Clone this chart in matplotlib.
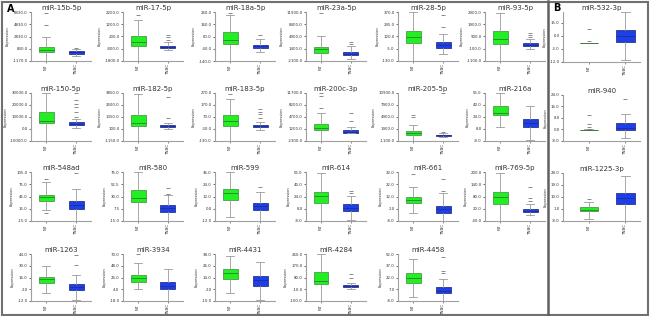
import matplotlib
matplotlib.use("Agg")
import matplotlib.pyplot as plt
from matplotlib.patches import Rectangle
from matplotlib.lines import Line2D

######################### data ################################################
# panel A, read row by row (6, 6, 6, 5 plots)
names_a = ["miR-15b-5p", "miR-17-5p", "miR-18a-5p", "miR-23a-5p", "miR-28-5p", "miR-93-5p",
           "miR-150-5p", "miR-182-5p", "miR-183-5p", "miR-200c-3p", "miR-205-5p", "miR-216a",
           "miR-548ad", "miR-580", "miR-599", "miR-614", "miR-661", "miR-769-5p",
           "miR-1263", "miR-3934", "miR-4431", "miR-4284", "miR-4458"]
# y range (bottom tick, top tick)
yrange_a = [(-1170, 6830), (-1800, 2200), (-140, 260), (-2100, 11900), (-130, 370), (-1100, 2900),
            (-10000, 30000), (-1150, 3850), (-130, 270), (-2300, 11700), (-1100, 10900), (-8, 56),
            (-15, 105), (-15, 75), (-12, 36), (-8, 56), (-8, 32), (-40, 200),
            (-12, 44), (-18, 70), (-10, 38), (-100, 260), (-8, 52)]
# whislo, q1, median, q3, whishi
green_a = [[-1170, 270, 670, 1150, 2670], [-1800, -600, -240, 280, 1520], [-140, 0, 32, 96, 232],
           [-2100, 280, 1260, 1820, 4900], [-130, 50, 115, 180, 370], [-1100, 260, 700, 1340, 2820],
           [-10000, 4800, 6400, 14400, 29600], [-1150, 400, 750, 1600, 3700], [-130, -2, 34, 90, 218],
           [-2300, 780, 1480, 2740, 5820], [-1100, 460, 940, 1420, 2980], [10.6, 27.2, 29.1, 38.1, 55.4],
           [11.4, 34.2, 42.6, 49.8, 81], [-15, 19.2, 27.3, 41.7, 75], [-7.7, 8.6, 15.4, 19.2, 36],
           [-8, 15, 24.6, 30.4, 54.1], [-1.6, 6.4, 9.2, 12, 20], [-40, 41.6, 75.2, 104, 192.8],
           [-3, 9.3, 13.8, 17.1, 29.4], [4, 18.1, 25.1, 31.3, 53.3], [-2.3, 12.1, 18.3, 22.6, 36.1],
           [-100, 33.2, 54.8, 123.2, 260], [-2.6, 15.4, 21.4, 27.4, 45.4]]
green_out_a = [[4670, 6670], [1960], [252], [11620], [], [],
               [], [], [258], [7360, 10720, 11560], [5020, 5500], [],
               [88.2, 5.4], [], [], [], [30.4], [],
               [], [69.1], [], [], []]
blue_a = [[-290, 30, 270, 510, 750], [-880, -720, -640, -560, -280], [-68, -32, -20, -8, 36],
          [-1400, -420, 0, 560, 2100], [-55, 5, 30, 60, 145], [-100, 100, 220, 380, 700],
          [800, 3200, 4400, 5600, 8000], [150, 300, 400, 500, 750], [-38, -14, -6, 2, 30],
          [-60, 80, 360, 780, 1900], [-20, 100, 280, 460, 940], [-6.7, 10.6, 16.3, 20.8, 38.7],
          [-15, 13.8, 23.4, 34.2, 64.2], [-15, 2.1, 8.4, 13.8, 32.7], [-12, -1.4, 2.4, 5.8, 16.3],
          [-6.1, 5.4, 9.3, 13.8, 24.6], [-8, -1.2, 1.6, 4, 14.8], [-11.2, 5.6, 10.4, 17.6, 41.6],
          [-10.9, 0.9, 4.8, 8.2, 18.8], [-18, 4, 11, 18.1, 41.8], [-9, 5.4, 11.1, 15.9, 30.3],
          [-6.4, 8, 15.2, 22.4, 40.4], [-8, 1.6, 5.2, 9.4, 19.6]]
blue_out_a = [[990], [-80, 120, 360], [76], [2800, 3360], [220, 335], [820, 1020, 1220],
              [10400, 14000, 18400, 21200, 24400, 29600], [1250, 3450], [62, 94, 114, 134],
              [3440, 5820], [1180, 10780], [],
              [101.4], [34.5, 46.2], [21.6], [28.5, 31], [16.8, 26.4], [58.4, 70.4, 125.6],
              [30.6, 43.4], [], [], [80, 105.2], [27.4, 30.4, 48.4]]

# panel B
names_b = ["miR-532-3p", "miR-940", "miR-1225-3p"]
yrange_b = [(-12, 24), (-8, 24), (-8, 28)]
ytop_b = [22.5, 24, 28]  # miR-532-3p axis stops below its last tick
green_b = [[0.8, 0.8, 1.0, 1.4, 1.4], [-0.5, -0.4, -0.3, -0.1, 0.2], [-6.2, -0.8, 0.6, 2.4, 6.4]]
green_out_b = [[2.3, 10.8], [0.6, 1.6, 3.5, 10.2], [8.2]]
blue_b = [[-10.4, 1.8, 5.8, 9.9, 22.2], [-6.1, -0.3, 1.3, 4.5, 10.9], [-8, 5, 8.9, 13.2, 25.5]]
blue_out_b = [[], [21.4], []]

groups = ["NT", "TNBC"]

######################### drawing #############################################
W, H = 650, 316
fig = plt.figure(figsize=(6.5, 3.16), dpi=100)

def stats(box, out, label):
    return dict(whislo=box[0], q1=box[1], med=box[2], q3=box[3], whishi=box[4],
                fliers=out, label=label)

def draw(rect, name, yr, top, g, gout, b, bout, xlim):
    x0, y0, w, h = rect
    ax = fig.add_axes([x0 / W, 1 - (y0 + h) / H, w / W, h / H])
    bp = ax.bxp([stats(g, gout, groups[0]), stats(b, bout, groups[1])],
                positions=[1, 2], widths=0.5, patch_artist=True,
                whiskerprops=dict(color="#9a9a9a", lw=0.6),
                capprops=dict(color="#9a9a9a", lw=0.6),
                medianprops=dict(color="#2a6a2a", lw=0.5),
                flierprops=dict(marker="_", markersize=2.5, markeredgecolor="#777777",
                                markeredgewidth=0.6))
    bp["boxes"][0].set(facecolor="#22ee22", edgecolor="#3a8a3a", lw=0.5)
    bp["boxes"][1].set(facecolor="#1f3fe6", edgecolor="#14207a", lw=0.5)
    bp["medians"][1].set_color("#1a2a90")
    lo, hi = yr
    ax.set_ylim(lo, top)
    ax.set_xlim(*xlim)
    step = (hi - lo) / 4
    ticks = [lo + i * step for i in range(5) if lo + i * step <= top + 1e-9]
    ax.set_yticks(ticks)
    ax.set_yticklabels(["%.1f" % t for t in ticks])
    ax.tick_params(axis="y", labelsize=2.8, length=1.5, width=0.5, pad=1,
                   colors="#333333")
    ax.tick_params(axis="x", labelsize=3, length=1.2, width=0.4, pad=1,
                   colors="#333333", labelrotation=90)
    for s in ["top", "right"]:
        ax.spines[s].set_visible(False)
    for s in ["left", "bottom"]:
        ax.spines[s].set_color("#a0a0a0")
        ax.spines[s].set_linewidth(0.8)
    ax.set_ylabel("Expression", fontsize=2.6, labelpad=2, color="#333333")
    ax.set_title(name, fontsize=5, pad=1.5, color="#333333")
    ax.patch.set_alpha(0)
    return ax

col_x = [31, 123, 215, 306, 398, 485]
row_y = [(12, 49), (93, 48), (172, 49), (254, 47)]
for i, name in enumerate(names_a):
    r, c = divmod(i, 6)
    rect = (col_x[c], row_y[r][0], 60, row_y[r][1])
    draw(rect, name, yrange_a[i], yrange_a[i][1], green_a[i], green_out_a[i],
         blue_a[i], blue_out_a[i], (0.5, 2.5))

row_b = [(12, 50), (95, 46), (173, 48)]
for i, name in enumerate(names_b):
    rect = (563, row_b[i][0], 77, row_b[i][1])
    draw(rect, name, yrange_b[i], ytop_b[i], green_b[i], green_out_b[i],
         blue_b[i], blue_out_b[i], (0.3, 2.4))

# frames and panel letters
fig.add_artist(Rectangle((2 / W, 1 / H), 646 / W, 313 / H, transform=fig.transFigure,
                         fill=False, edgecolor="#707070", lw=1.5))
fig.add_artist(Line2D([548 / W, 548 / W], [1 / H, 1 - 1 / H], transform=fig.transFigure,
                      color="#606060", lw=1.8))
fig.text(7 / W, 1 - 9 / H, "A", fontsize=7, fontweight="bold", va="center")
fig.text(553 / W, 1 - 8 / H, "B", fontsize=7, fontweight="bold", va="center")

fig.savefig("out.png", dpi=100)
